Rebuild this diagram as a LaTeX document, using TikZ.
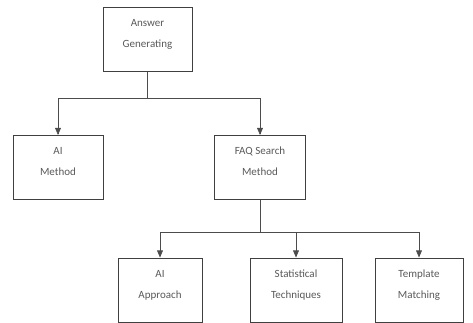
\documentclass[tikz,border=0pt]{standalone}
\usepackage{fontspec}
\setmainfont{Carlito}
\usepackage{tikz}
\usetikzlibrary{shapes,arrows}

\begin{document}
\begin{tikzpicture}[x=1pt, y=-1pt, thick, >=triangle 45,
    box/.style={draw=black!75, line width=1pt, align=center, text=black!65,
        font=\fontsize{11}{21}\selectfont, minimum height=64pt, text depth=12pt, inner sep=0pt},
    link/.style={draw=black!70, line width=0.6pt}]

\useasboundingbox (0,0) rectangle (473,323);

\draw
    node at(147.5,39.5)[box,minimum width=89pt,name=answer]{Answer\\Generating}

    node at(58,167.5)[box,minimum width=90pt,name=aimeth]{AI\\Method}
    node at(260,167.5)[box,minimum width=91pt,name=faq]{FAQ Search\\Method}

    node at(160,290)[box,minimum width=84pt,name=aiappr]{AI\\Approach}
    node at(296,290)[box,minimum width=92pt,name=stat]{Statistical\\Techniques}
    node at(419,290)[box,minimum width=88pt,name=templ]{Template\\Matching}
;
    \coordinate (split1) at (147.5,98);
    \coordinate (split2) at (260,232);

	\draw[link](answer) -- (split1);
    \draw[link,->](split1) -| (aimeth);
    \draw[link,->](split1) -| (faq);

	\draw[link](faq) -- (split2);
    \draw[link,->](split2) -| (aiappr);
    \draw[link,->](split2) -- (split2 -| stat) -- (stat);
    \draw[link,->](split2) -| (templ);

\end{tikzpicture}
\end{document}
